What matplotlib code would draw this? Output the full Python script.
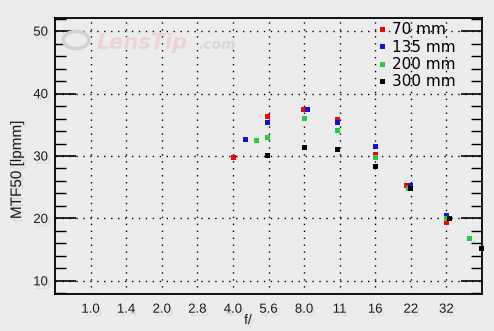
import numpy as np
import matplotlib.pyplot as plt
import matplotlib.patheffects as pe
from matplotlib.patches import Circle
from matplotlib.ticker import MultipleLocator

# f-stop ticks
stop_labels = ['1.0', '1.4', '2.0', '2.8', '4.0', '5.6', '8.0', '11', '16', '22', '32']

# MTF50 [lpmm] vs aperture for each focal length
f_70 = [4.0, 5.6, 7.9, 11, 16, 21.6, 32]
mtf_70 = [29.8, 36.4, 37.6, 35.9, 30.3, 25.4, 19.4]

f_135 = [4.5, 5.6, 8.2, 11, 16, 22.4, 32]
mtf_135 = [32.8, 35.5, 37.6, 35.5, 31.6, 25.4, 20.5]

f_200 = [5.0, 5.6, 8.0, 11, 16, 22, 32, 40]
mtf_200 = [32.5, 33.1, 36.1, 34.2, 29.8, 24.8, 20.1, 16.9]

f_300 = [5.6, 8.0, 11, 16, 22.4, 32.8, 45]
mtf_300 = [30.1, 31.4, 31.1, 28.4, 24.8, 20.1, 15.2]

series = [
    ('70 mm', f_70, mtf_70, '#ff0000'),
    ('135 mm', f_135, mtf_135, '#1010e0'),
    ('200 mm', f_200, mtf_200, '#22cc44'),
    ('300 mm', f_300, mtf_300, '#000000'),
]

bg = '#ececec'
fig = plt.figure(figsize=(4.94, 3.31), dpi=100, facecolor=bg)
ax = fig.add_axes([55 / 494, 1 - 294 / 331, 427 / 494, 276 / 331], facecolor=bg)

def to_stop(f):
    return 2 * np.log2(np.asarray(f, dtype=float))

for name, f, m, c in series:
    ax.plot(to_stop(f), m, 's', color=c, markersize=3.6, markeredgewidth=0,
            label=name, clip_on=False, zorder=5)

ax.set_xlim(-1, 11)
ax.set_ylim(7.9, 52.1)

shadow = [pe.withSimplePatchShadow(offset=(1.5, -2.5), shadow_rgbFace='#c4c4c4', alpha=0.45)]

ax.set_xticks(range(len(stop_labels)))
ax.set_xticklabels(stop_labels)
ax.yaxis.set_major_locator(MultipleLocator(10))
ax.yaxis.set_minor_locator(MultipleLocator(2))
ax.tick_params(axis='x', length=0, pad=7, labelsize=9.5)
ax.tick_params(axis='y', which='major', direction='in', length=15, width=1.2,
               left=True, right=True, labelsize=9.5, pad=5)
ax.tick_params(axis='y', which='minor', direction='in', length=8, width=1.0,
               left=True, right=True)
for lab in ax.get_xticklabels() + ax.get_yticklabels():
    lab.set_fontfamily('Liberation Sans')
    lab.set_color('#1a1a1a')
    lab.set_path_effects(shadow)

ax.grid(True, which='major', color='black', linestyle=(0, (1, 4)), linewidth=1.0)
for s in ax.spines.values():
    s.set_linewidth(1.3)

# watermark
fig.patches.append(Circle((76 / 494, 1 - 40 / 331), 0.026, transform=fig.transFigure,
                          fill=False, edgecolor='#d6d0d0', linewidth=2.5))
fig.text(97 / 494, 1 - 43 / 331, 'LensTip', fontsize=15, style='italic', fontweight='bold',
         color='#ecd4d4', family='DejaVu Sans', va='center')
fig.text(198 / 494, 1 - 45 / 331, '.com', fontsize=10, style='italic', fontweight='bold',
         color='#d8d8d8', family='DejaVu Sans', va='center')

fig.text(248 / 494, 1 - 320 / 331, 'f/', fontsize=10, family='Liberation Sans',
         ha='center', va='center', color='#1a1a1a', path_effects=shadow)
fig.text(17 / 494, 1 - 170 / 331, 'MTF50 [lpmm]', fontsize=11, rotation=90,
         family='Liberation Sans', ha='center', va='center', color='#1a1a1a',
         path_effects=shadow)

leg = ax.legend(loc='upper left', bbox_to_anchor=(0.74, 1.012), frameon=False,
                fontsize=11, handlelength=0.5, handletextpad=0.4, labelspacing=0.15,
                markerscale=1.0, borderaxespad=0.1)

fig.savefig('out.png', dpi=100, facecolor=bg)
